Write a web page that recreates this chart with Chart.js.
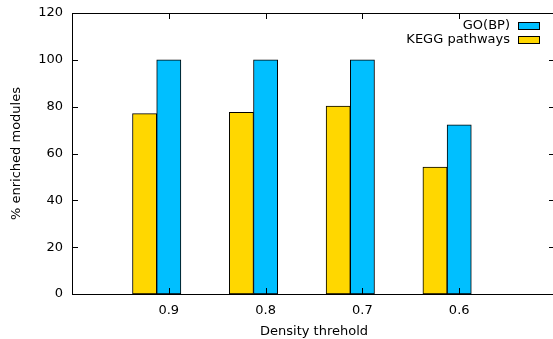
<!DOCTYPE html>
<html>
<head>
<meta charset="utf-8">
<script src="https://cdn.jsdelivr.net/npm/chart.js@4/dist/chart.umd.min.js"></script>
<style>
  html, body { margin: 0; padding: 0; background: #fff; overflow: hidden; width: 553px; height: 339px; }
  canvas { display: block; }
</style>
</head>
<body>
<canvas id="c" width="556" height="339"></canvas>
<script>
// Density thresholds (x categories) and the share of enriched modules per annotation source
const thresholds = ['0.9', '0.8', '0.7', '0.6'];
const keggPathways = [77, 77.6, 80.3, 54.2];
const goBP = [100, 100, 100, 72.2];
const yTicks = [0, 20, 40, 60, 80, 100, 120];

const FONT = 'DejaVu Sans';
const GOLD = '#FFD700';
const SKY = '#00BFFF';

// Within each cluster the KEGG bar sits a quarter step left of the GO bar
const keggPoints = keggPathways.map((v, i) => ({ x: i - 0.25, y: v }));
const goPoints = goBP.map((v, i) => ({ x: i, y: v }));

// Frame (its right side falls just past the visible edge), inward ticks on all sides,
// and a right-aligned key inside the top-right corner
const framePlugin = {
  id: 'frame',
  afterDatasetsDraw(chart) {
    const { ctx, chartArea: a, scales: { x, y } } = chart;
    const t = 6;
    ctx.save();
    ctx.strokeStyle = '#000';
    ctx.lineWidth = 1;
    ctx.beginPath();
    const L = Math.round(a.left) + 0.5, T = Math.round(a.top) + 0.5, B = Math.round(a.bottom) + 0.5;
    ctx.moveTo(a.right, T);
    ctx.lineTo(L, T);
    ctx.lineTo(L, B);
    ctx.lineTo(a.right, B);
    yTicks.forEach(v => {
      const py = Math.round(y.getPixelForValue(v)) + 0.5;
      ctx.moveTo(a.left, py); ctx.lineTo(a.left + t, py);
      ctx.moveTo(a.right - t - 1, py); ctx.lineTo(a.right, py);
    });
    thresholds.forEach((_, i) => {
      const px = Math.round(x.getPixelForValue(i)) + 0.5;
      ctx.moveTo(px, a.bottom); ctx.lineTo(px, a.bottom - t);
      ctx.moveTo(px, a.top); ctx.lineTo(px, a.top + t);
    });
    ctx.stroke();

    // key
    ctx.font = '13px "' + FONT + '"';
    ctx.textAlign = 'right';
    ctx.textBaseline = 'middle';
    const order = [chart.data.datasets[1], chart.data.datasets[0]];
    order.forEach((ds, k) => {
      const cy = 26 + k * 14;
      ctx.fillStyle = '#000';
      ctx.fillText(ds.label, 510, cy);
      ctx.fillStyle = ds.backgroundColor;
      ctx.fillRect(518, cy - 3, 21, 6);
      ctx.strokeRect(518.5, cy - 3.5, 21, 7);
    });
    ctx.restore();
  }
};

new Chart(document.getElementById('c'), {
  type: 'bar',
  data: {
    datasets: [
      {
        label: 'KEGG pathways',
        data: keggPoints,
        backgroundColor: GOLD,
        borderColor: '#000',
        borderWidth: 1,
        borderSkipped: false,
        grouped: false,
        barPercentage: 1,
        categoryPercentage: 1
      },
      {
        label: 'GO(BP)',
        data: goPoints,
        backgroundColor: SKY,
        borderColor: '#000',
        borderWidth: 1,
        borderSkipped: false,
        grouped: false,
        barPercentage: 1,
        categoryPercentage: 1
      }
    ]
  },
  options: {
    responsive: false,
    animation: false,
    layout: { padding: { top: 13, right: 0, left: 0, bottom: 0 } },
    plugins: { legend: { display: false }, tooltip: { enabled: false } },
    scales: {
      x: {
        type: 'linear',
        offset: false,
        min: -1,
        max: 4,
        afterBuildTicks(scale) { scale.ticks = thresholds.map((_, i) => ({ value: i })); },
        afterFit(scale) { scale.height = 45; scale.paddingLeft = 0; scale.paddingRight = 0; },
        grid: { display: false, drawTicks: false, offset: false },
        border: { display: false },
        ticks: {
          padding: 9,
          color: '#000',
          font: { family: FONT, size: 13 },
          callback: v => thresholds[v] ?? ''
        },
        title: {
          display: true,
          text: 'Density threhold',
          color: '#000',
          font: { family: FONT, size: 13 },
          padding: { top: 0, bottom: 0 }
        }
      },
      y: {
        min: 0,
        max: 120,
        afterBuildTicks(scale) { scale.ticks = yTicks.map(v => ({ value: v })); },
        afterFit(scale) { scale.width = 72; scale.paddingTop = 0; scale.paddingBottom = 0; },
        grid: { display: false, drawTicks: false },
        border: { display: false },
        ticks: {
          padding: 9,
          color: '#000',
          font: { family: FONT, size: 13 }
        },
        title: {
          display: true,
          text: '% enriched modules',
          color: '#000',
          font: { family: FONT, size: 13 },
          padding: { top: 9, bottom: 0 }
        }
      }
    }
  },
  plugins: [framePlugin]
});
</script>
</body>
</html>
